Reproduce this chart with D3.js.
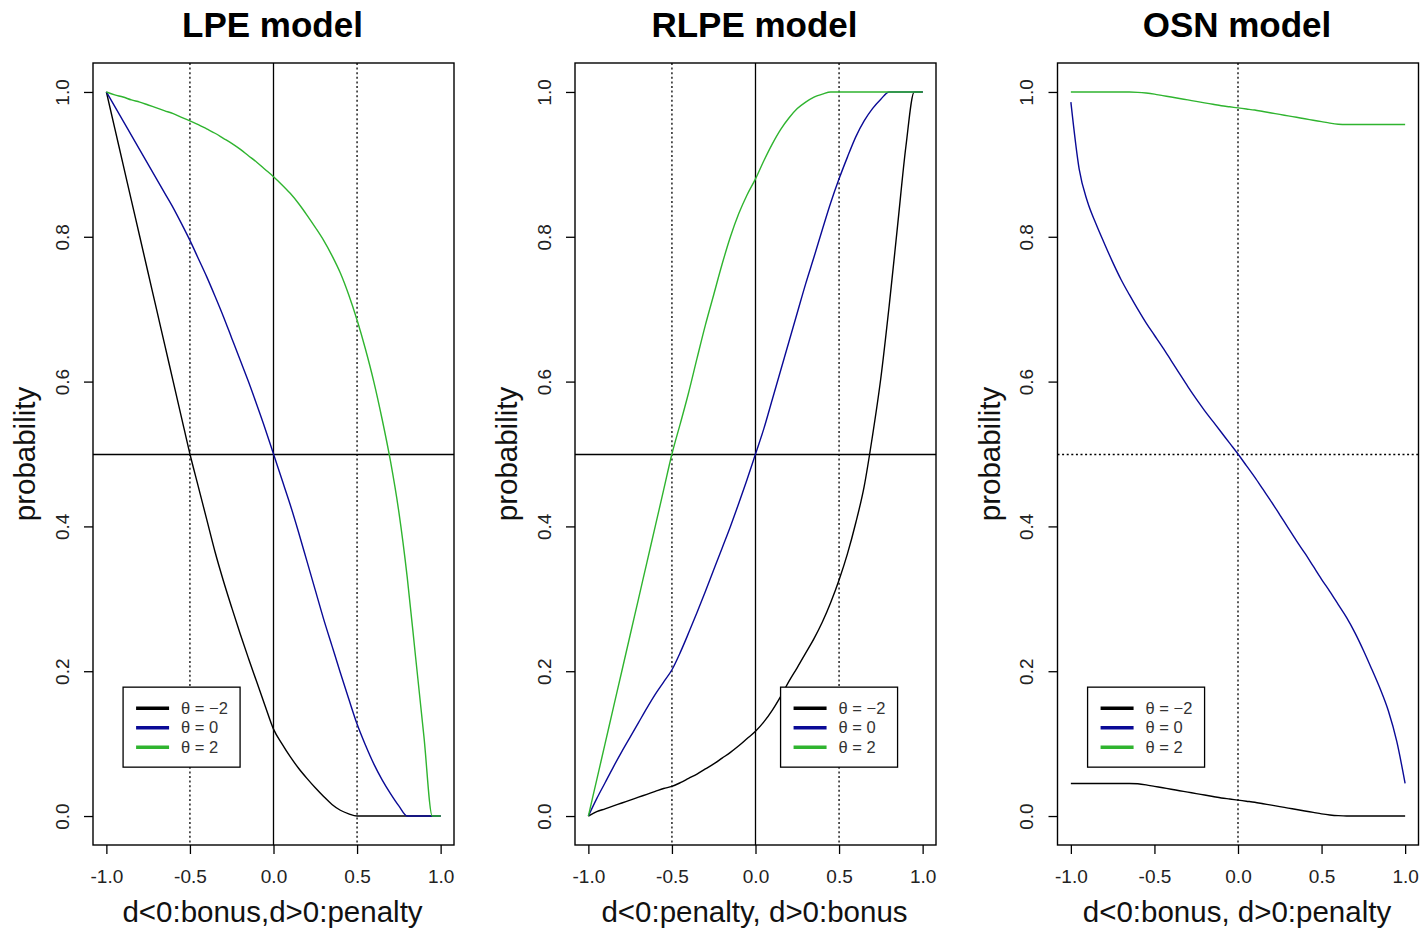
<!DOCTYPE html>
<html>
<head>
<meta charset="utf-8">
<script src="https://cdn.jsdelivr.net/npm/d3@7"></script>
<style>
  html, body { margin: 0; padding: 0; background: #fff; }
  svg { display: block; font-family: "Liberation Sans", Arial, sans-serif; }
</style>
</head>
<body>
<svg id="chart" width="1422" height="932"></svg>
<script>
// ---------- data ----------
const xs = [-1, -0.95, -0.9, -0.85, -0.8, -0.75, -0.7, -0.65, -0.6, -0.55, -0.5,
            -0.45, -0.4, -0.35, -0.3, -0.25, -0.2, -0.15, -0.1, -0.05, 0,
            0.05, 0.1, 0.15, 0.2, 0.25, 0.3, 0.35, 0.4, 0.45, 0.5,
            0.55, 0.6, 0.65, 0.7, 0.75, 0.8, 0.85, 0.9, 0.95, 1];

const lpeNeg2 = [1.0, 0.95, 0.90, 0.85, 0.80, 0.75, 0.70, 0.65, 0.60, 0.55, 0.50,
                 0.455, 0.41, 0.365, 0.325, 0.288, 0.252, 0.218, 0.185, 0.152, 0.12,
                 0.10, 0.082, 0.066, 0.052, 0.039, 0.027, 0.016, 0.008, 0.003, 0,
                 0, 0, 0, 0, 0, 0, 0, 0, 0, 0];
const lpe0 = [1.0, 0.98, 0.96, 0.94, 0.92, 0.90, 0.88, 0.86, 0.84, 0.818, 0.795,
              0.77, 0.745, 0.718, 0.69, 0.66, 0.63, 0.60, 0.568, 0.535, 0.5,
              0.465, 0.43, 0.392, 0.352, 0.312, 0.272, 0.235, 0.198, 0.162, 0.127,
              0.098, 0.072, 0.05, 0.031, 0.014, 0, 0, 0, 0, 0];
const lpe2 = [1.0, 0.996, 0.993, 0.989, 0.986, 0.982, 0.978, 0.974, 0.97, 0.965, 0.96,
              0.955, 0.949, 0.943, 0.936, 0.929, 0.921, 0.912, 0.903, 0.893, 0.883,
              0.872, 0.86, 0.846, 0.83, 0.813, 0.795, 0.774, 0.75, 0.72, 0.685,
              0.645, 0.6, 0.548, 0.49, 0.42, 0.33, 0.22, 0.11, 0.0, 0.0];

const rlpeNeg2 = [0, 0.006, 0.01, 0.014, 0.018, 0.022, 0.026, 0.03, 0.034, 0.038, 0.041,
                  0.046, 0.052, 0.058, 0.065, 0.072, 0.08, 0.088, 0.097, 0.107, 0.117,
                  0.13, 0.146, 0.165, 0.186, 0.205, 0.225, 0.245, 0.268, 0.295, 0.326,
                  0.362, 0.405, 0.455, 0.525, 0.605, 0.705, 0.815, 0.925, 1.0, 1.0];
const rlpe0 = [0, 0.024, 0.046, 0.068, 0.089, 0.109, 0.129, 0.149, 0.168, 0.185, 0.202,
               0.226, 0.253, 0.281, 0.31, 0.34, 0.37, 0.4, 0.432, 0.465, 0.5,
               0.535, 0.575, 0.615, 0.655, 0.695, 0.735, 0.772, 0.81, 0.847, 0.88,
               0.91, 0.938, 0.96, 0.977, 0.99, 1.0, 1.0, 1.0, 1.0, 1.0];
const rlpe2 = [0, 0.05, 0.1, 0.15, 0.2, 0.25, 0.3, 0.35, 0.4, 0.45, 0.5,
               0.542, 0.585, 0.632, 0.678, 0.72, 0.762, 0.8, 0.832, 0.858, 0.88,
               0.905, 0.928, 0.948, 0.964, 0.977, 0.986, 0.993, 0.997, 1, 1,
               1, 1, 1, 1, 1, 1, 1, 1, 1, 1];

const osnNeg2 = [0.045, 0.045, 0.045, 0.045, 0.045, 0.045, 0.045, 0.045, 0.0445, 0.043, 0.041,
                 0.039, 0.037, 0.035, 0.033, 0.031, 0.029, 0.027, 0.025, 0.0235, 0.022,
                 0.0205, 0.019, 0.017, 0.015, 0.013, 0.011, 0.009, 0.007, 0.005, 0.003,
                 0.0015, 0.0005, 0, 0, 0, 0, 0, 0, 0, 0];
const osn0 = [0.986, 0.893, 0.848, 0.818, 0.791, 0.765, 0.741, 0.72, 0.7, 0.681, 0.664,
              0.647, 0.629, 0.611, 0.593, 0.576, 0.56, 0.545, 0.53, 0.515, 0.5,
              0.484, 0.468, 0.451, 0.434, 0.416, 0.398, 0.38, 0.363, 0.345, 0.327,
              0.31, 0.292, 0.274, 0.253, 0.229, 0.203, 0.176, 0.145, 0.103, 0.045];
const osn2 = [1.0, 1.0, 1.0, 1.0, 1.0, 1.0, 1.0, 1.0, 0.9995, 0.9985, 0.997,
              0.995, 0.993, 0.991, 0.989, 0.987, 0.985, 0.983, 0.981, 0.9795, 0.978,
              0.9765, 0.975, 0.973, 0.971, 0.969, 0.967, 0.965, 0.963, 0.961, 0.959,
              0.957, 0.9555, 0.955, 0.955, 0.955, 0.955, 0.955, 0.955, 0.955, 0.955];

const titles = ["LPE model", "RLPE model", "OSN model"];
const xTitles = ["d<0:bonus,d>0:penalty", "d<0:penalty, d>0:bonus", "d<0:bonus, d>0:penalty"];
const yTitle = "probability";
const xTicks = [-1, -0.5, 0, 0.5, 1];
const yTicks = [0, 0.2, 0.4, 0.6, 0.8, 1.0];
const legendLabels = ["θ = −2", "θ = 0", "θ = 2"];
const seriesColors = ["#000000", "#0a0a96", "#2fb42f"];
const panelSeries = [[lpeNeg2, lpe0, lpe2], [rlpeNeg2, rlpe0, rlpe2], [osnNeg2, osn0, osn2]];
// reference lines per panel: [value, orientation, style]
const refLines = [
  [[-0.5, "v", "dot"], [0.5, "v", "dot"], [0, "v", "solid"], [0.5, "h", "solid"]],
  [[-0.5, "v", "dot"], [0.5, "v", "dot"], [0, "v", "solid"], [0.5, "h", "solid"]],
  [[0, "v", "dot"], [0.5, "h", "dot"]]
];
const legendAnchors = [[-0.9, 0.178], [0.15, 0.178], [-0.9, 0.178]];

// ---------- layout ----------
const svg = d3.select("#chart");
const plotTop = 63, plotBottom = 845, plotW = 361;
const panelLefts = [93, 575, 1057.5];

panelLefts.forEach((left, i) => {
  const x = d3.scaleLinear().domain([-1.08, 1.08]).range([left, left + plotW]);
  const y = d3.scaleLinear().domain([-0.04, 1.04]).range([plotBottom, plotTop]);
  const g = svg.append("g");

  // reference lines
  refLines[i].forEach(([v, o, s]) => {
    const ln = g.append("line")
      .attr("stroke", "#000").attr("stroke-width", 1.3)
      .attr("stroke-dasharray", s === "dot" ? "2,2.6" : null);
    if (o === "v") ln.attr("x1", x(v)).attr("x2", x(v)).attr("y1", plotTop).attr("y2", plotBottom);
    else ln.attr("x1", left).attr("x2", left + plotW).attr("y1", Math.round(y(v)) + 0.5).attr("y2", Math.round(y(v)) + 0.5);
  });

  // curves
  const line = d3.line().curve(d3.curveMonotoneX).x((d, k) => x(xs[k])).y(d => y(d));
  panelSeries[i].forEach((vals, s) => {
    g.append("path").datum(vals)
      .attr("d", line)
      .attr("fill", "none")
      .attr("stroke", seriesColors[s])
      .attr("stroke-width", 1.4)
      .attr("stroke-linejoin", "round");
  });

  // box
  g.append("rect").attr("x", left).attr("y", plotTop)
    .attr("width", plotW).attr("height", plotBottom - plotTop)
    .attr("fill", "none").attr("stroke", "#000").attr("stroke-width", 1.4);

  // x axis
  const xa = g.append("g").attr("transform", `translate(0,${plotBottom})`)
    .call(d3.axisBottom(x).tickValues(xTicks).tickSize(9).tickPadding(16).tickFormat(d3.format(".1f")));
  xa.select(".domain").remove();
  xa.selectAll(".tick line").attr("stroke", "#000").attr("stroke-width", 1.3);
  xa.selectAll(".tick text").attr("font-size", 19).attr("fill", "#222")
    .attr("font-family", "Liberation Sans, Arial, sans-serif")
    .text(d => d3.format(".1f")(d).replace("−", "-"));

  // y axis
  const ya = g.append("g").attr("transform", `translate(${left},0)`)
    .call(d3.axisLeft(y).tickValues(yTicks).tickSize(9).tickFormat(d3.format(".1f")));
  ya.select(".domain").remove();
  ya.selectAll(".tick line").attr("stroke", "#000").attr("stroke-width", 1.3);
  ya.selectAll(".tick text")
    .attr("font-size", 19).attr("fill", "#222")
    .attr("font-family", "Liberation Sans, Arial, sans-serif")
    .attr("text-anchor", "middle")
    .attr("transform", "rotate(-90)")
    .attr("x", 0).attr("y", -31).attr("dy", "0.35em");

  // titles
  g.append("text").attr("x", left + plotW / 2 - 1).attr("y", 37)
    .attr("text-anchor", "middle").attr("font-size", 35).attr("font-weight", "bold")
    .text(titles[i]);
  g.append("text").attr("x", left + plotW / 2 - 1).attr("y", 922)
    .attr("text-anchor", "middle").attr("font-size", 29.5).attr("fill", "#111")
    .text(xTitles[i]);
  g.append("text")
    .attr("transform", `translate(${left - 58},${(plotTop + plotBottom) / 2}) rotate(-90)`)
    .attr("text-anchor", "middle").attr("font-size", 29.5).attr("fill", "#111")
    .text(yTitle);

  // legend
  const [lx, ly] = legendAnchors[i];
  const bx = x(lx), by = y(ly);
  const lg = g.append("g").attr("transform", `translate(${bx},${by})`);
  lg.append("rect").attr("width", 117).attr("height", 80)
    .attr("fill", "#fff").attr("stroke", "#000").attr("stroke-width", 1.3);
  legendLabels.forEach((lab, k) => {
    const ry = 21 + k * 19.5;
    lg.append("line").attr("x1", 13).attr("x2", 46).attr("y1", ry).attr("y2", ry)
      .attr("stroke", seriesColors[k]).attr("stroke-width", 3.5);
    lg.append("text").attr("x", 58).attr("y", ry).attr("dy", "0.35em")
      .attr("font-size", 16.5).attr("fill", "#333").text(lab);
  });
});
</script>
</body>
</html>
